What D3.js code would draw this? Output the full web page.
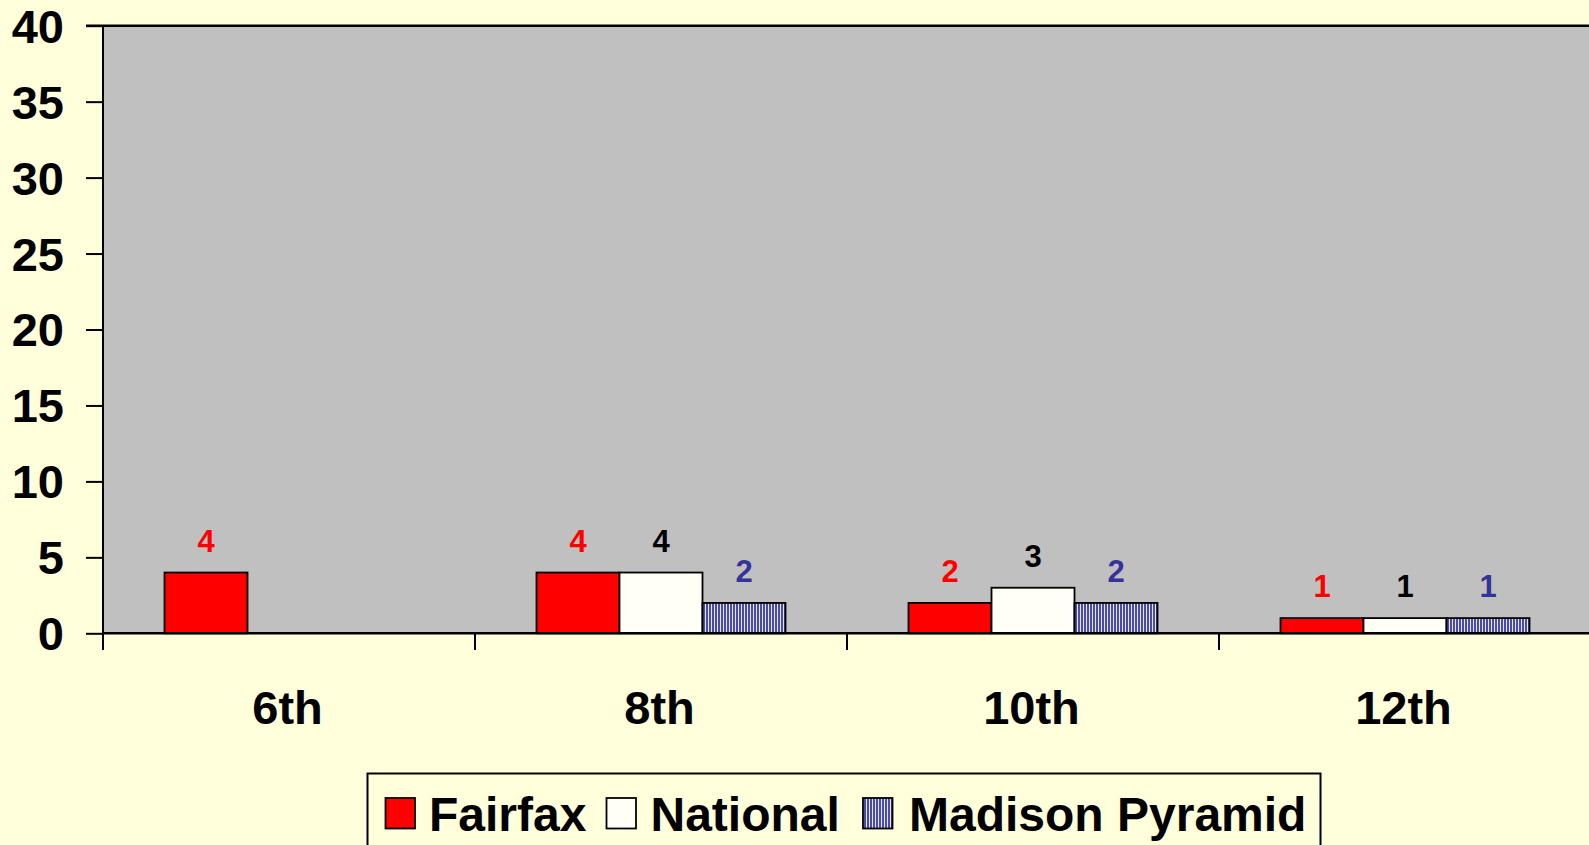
<!DOCTYPE html>
<html>
<head>
<meta charset="utf-8">
<script src="https://cdn.jsdelivr.net/npm/d3@7"></script>
<style>
  html, body { margin: 0; padding: 0; background: #FFFFDC; overflow: hidden; }
  svg { display: block; font-family: "Liberation Sans", Arial, sans-serif; font-weight: bold; }
</style>
</head>
<body>
<svg width="1589" height="845"></svg>
<script>
// chart data
const categories = ["6th", "8th", "10th", "12th"];
const seriesNames = ["Fairfax", "National", "Madison Pyramid"];
const fairfax = [4, 4, 2, 1];
const national = [null, 4, 3, 1];
const madison = [null, 2, 2, 1];
const yTicks = [0, 5, 10, 15, 20, 25, 30, 35, 40];

const fills = ["#FF0000", "#FFFFF5", "url(#stripes)"];
const labelColors = ["#FF0000", "#000000", "#333399"];

const svg = d3.select("svg");
const width = 1589, height = 845;

// plot area
const plotL = 103, plotT = 25.7, plotB = 633.3, plotR = 1591;

const defs = svg.append("defs");
const pat = defs.append("pattern")
    .attr("id", "stripes")
    .attr("patternUnits", "userSpaceOnUse")
    .attr("width", 3).attr("height", 10);
pat.append("rect").attr("width", 3).attr("height", 10).attr("fill", "#E6E6F6");
pat.append("rect").attr("width", 2).attr("height", 10).attr("fill", "#4B4BA8");

const x = d3.scaleBand().domain(categories).range([plotL, plotR]);
const x1 = d3.scaleBand().domain(seriesNames).range([61.5, 310.5]);
const y = d3.scaleLinear().domain([0, 40]).range([plotB, plotT]);

// grey plot background
svg.append("rect")
    .attr("x", plotL).attr("y", plotT)
    .attr("width", plotR - plotL).attr("height", plotB - plotT)
    .attr("fill", "#C0C0C0");

// bars
const rows = categories.map((c, i) => ({
  cat: c,
  vals: [fairfax[i], national[i], madison[i]]
}));

const groups = svg.selectAll(".grp")
    .data(rows)
    .enter()
    .append("g")
    .attr("class", "grp")
    .attr("transform", d => `translate(${x(d.cat)},0)`);

groups.selectAll("rect")
    .data(d => d.vals.map((v, k) => ({ v, k })).filter(e => e.v != null))
    .enter()
    .append("rect")
    .attr("x", e => x1(seriesNames[e.k]))
    .attr("y", e => y(e.v))
    .attr("width", x1.bandwidth())
    .attr("height", e => y(0) - y(e.v))
    .attr("fill", e => fills[e.k])
    .attr("stroke", "#000")
    .attr("stroke-width", 1.8);

// value labels
groups.selectAll("text")
    .data(d => d.vals.map((v, k) => ({ v, k })).filter(e => e.v != null))
    .enter()
    .append("text")
    .attr("x", e => x1(seriesNames[e.k]) + x1.bandwidth() / 2)
    .attr("y", e => y(e.v) - 21)
    .attr("text-anchor", "middle")
    .attr("font-size", 31)
    .attr("fill", e => labelColors[e.k])
    .text(e => e.v);

// axis lines
svg.append("line")
    .attr("x1", 86).attr("x2", width).attr("y1", plotT).attr("y2", plotT)
    .attr("stroke", "#000").attr("stroke-width", 2.5);
svg.append("line")
    .attr("x1", plotL).attr("x2", width).attr("y1", plotB).attr("y2", plotB)
    .attr("stroke", "#000").attr("stroke-width", 2.5);
svg.append("line")
    .attr("x1", plotL).attr("x2", plotL).attr("y1", plotT).attr("y2", 650)
    .attr("stroke", "#000").attr("stroke-width", 2);

// y axis ticks + labels
const yAxis = d3.axisLeft(y).tickValues(yTicks).tickSize(17).tickPadding(22);
const gy = svg.append("g")
    .attr("transform", `translate(${plotL},0)`)
    .call(yAxis);
gy.select(".domain").remove();
gy.selectAll(".tick line").attr("stroke", "#000").attr("stroke-width", 2);
gy.selectAll(".tick text")
    .attr("font-size", 47)
    .attr("font-family", "Liberation Sans, Arial, sans-serif")
    .attr("font-weight", "bold")
    .attr("fill", "#000")
    .attr("dy", "0.35em");

// category boundary ticks
svg.selectAll(".ctick")
    .data(categories.slice(1))
    .enter()
    .append("line")
    .attr("x1", d => x(d)).attr("x2", d => x(d))
    .attr("y1", plotB).attr("y2", 650)
    .attr("stroke", "#000").attr("stroke-width", 2);

// category labels
svg.selectAll(".clabel")
    .data(categories)
    .enter()
    .append("text")
    .attr("x", d => x(d) + x.bandwidth() / 2 - 1.5)
    .attr("y", 724)
    .attr("text-anchor", "middle")
    .attr("font-size", 47)
    .attr("fill", "#000")
    .text(d => d);

// legend
const legend = svg.append("g");
legend.append("rect")
    .attr("x", 367.5).attr("y", 773.5)
    .attr("width", 953).attr("height", 100)
    .attr("fill", "none")
    .attr("stroke", "#000").attr("stroke-width", 2);

const legendSwatchX = [385.5, 606.5, 863];
const legendTextX = [429, 650.5, 909];
seriesNames.forEach((name, k) => {
  legend.append("rect")
      .attr("x", legendSwatchX[k]).attr("y", 798)
      .attr("width", 29.5).attr("height", 30.5)
      .attr("fill", fills[k])
      .attr("stroke", "#000").attr("stroke-width", 1.8);
  legend.append("text")
      .attr("x", legendTextX[k]).attr("y", 831)
      .attr("font-size", 48)
      .attr("fill", "#000")
      .text(name);
});
</script>
</body>
</html>
